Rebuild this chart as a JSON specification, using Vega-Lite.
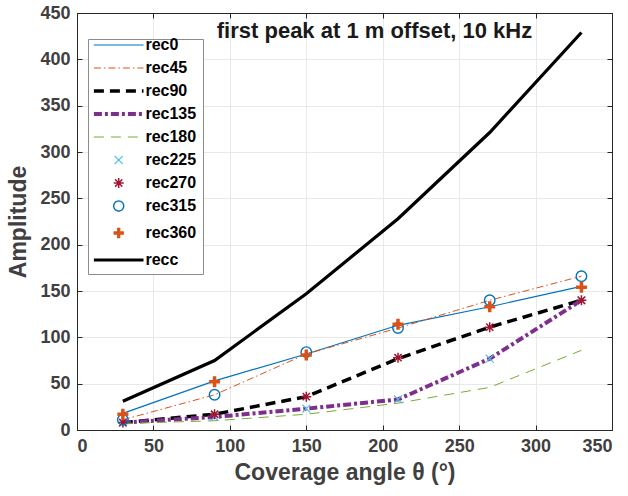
{
  "$schema": "https://vega.github.io/schema/vega-lite/v6.json",
  "autosize": {"type": "none"},
  "padding": {"left": 77, "top": 13, "right": 16, "bottom": 66},
  "width": 535,
  "height": 417,
  "background": "white",
  "title": {"text": "first peak at 1 m offset, 10 kHz", "font": "Liberation Sans", "fontSize": 22, "fontWeight": "bold", "color": "#1a1a1a", "anchor": "middle", "orient": "top", "baseline": "top", "offset": -39, "dx": 30},
  "config": {
    "view": {"stroke": "#262626", "strokeWidth": 1},
    "axis": {"labelFont": "Liberation Sans", "labelFontSize": 18, "labelFontWeight": "bold", "labelColor": "#404040", "titleFont": "Liberation Sans", "titleFontSize": 23, "titleFontWeight": "bold", "titleColor": "#404040", "domainColor": "#262626", "tickColor": "#262626", "gridColor": "#e3e3e3", "gridWidth": 0.8, "tickSize": -5, "labelPadding": 12}
  },
  "data": {"values": [
    {"series": "rec0", "angle": 30, "amp": 18}, {"series": "rec0", "angle": 90, "amp": 53}, {"series": "rec0", "angle": 150, "amp": 82}, {"series": "rec0", "angle": 210, "amp": 113}, {"series": "rec0", "angle": 270, "amp": 133}, {"series": "rec0", "angle": 330, "amp": 155},
    {"series": "rec45", "angle": 30, "amp": 11}, {"series": "rec45", "angle": 90, "amp": 38}, {"series": "rec45", "angle": 150, "amp": 82}, {"series": "rec45", "angle": 210, "amp": 110}, {"series": "rec45", "angle": 270, "amp": 140}, {"series": "rec45", "angle": 330, "amp": 166},
    {"series": "rec90", "angle": 30, "amp": 8}, {"series": "rec90", "angle": 90, "amp": 17}, {"series": "rec90", "angle": 150, "amp": 36}, {"series": "rec90", "angle": 210, "amp": 77}, {"series": "rec90", "angle": 270, "amp": 111}, {"series": "rec90", "angle": 330, "amp": 140},
    {"series": "rec135", "angle": 30, "amp": 8}, {"series": "rec135", "angle": 90, "amp": 14}, {"series": "rec135", "angle": 150, "amp": 23}, {"series": "rec135", "angle": 210, "amp": 33}, {"series": "rec135", "angle": 270, "amp": 77}, {"series": "rec135", "angle": 330, "amp": 140},
    {"series": "rec180", "angle": 30, "amp": 7}, {"series": "rec180", "angle": 90, "amp": 10}, {"series": "rec180", "angle": 150, "amp": 17}, {"series": "rec180", "angle": 210, "amp": 29}, {"series": "rec180", "angle": 270, "amp": 46}, {"series": "rec180", "angle": 330, "amp": 86},
    {"series": "rec225", "angle": 30, "amp": 8}, {"series": "rec225", "angle": 90, "amp": 14}, {"series": "rec225", "angle": 150, "amp": 23}, {"series": "rec225", "angle": 210, "amp": 33}, {"series": "rec225", "angle": 270, "amp": 77}, {"series": "rec225", "angle": 330, "amp": 140},
    {"series": "rec270", "angle": 30, "amp": 8}, {"series": "rec270", "angle": 90, "amp": 17}, {"series": "rec270", "angle": 150, "amp": 36}, {"series": "rec270", "angle": 210, "amp": 78}, {"series": "rec270", "angle": 270, "amp": 111}, {"series": "rec270", "angle": 330, "amp": 140},
    {"series": "rec315", "angle": 30, "amp": 11}, {"series": "rec315", "angle": 90, "amp": 38}, {"series": "rec315", "angle": 150, "amp": 84}, {"series": "rec315", "angle": 210, "amp": 110}, {"series": "rec315", "angle": 270, "amp": 140}, {"series": "rec315", "angle": 330, "amp": 166},
    {"series": "rec360", "angle": 30, "amp": 17}, {"series": "rec360", "angle": 90, "amp": 52}, {"series": "rec360", "angle": 150, "amp": 81}, {"series": "rec360", "angle": 210, "amp": 114}, {"series": "rec360", "angle": 270, "amp": 133}, {"series": "rec360", "angle": 330, "amp": 154},
    {"series": "recc", "angle": 30, "amp": 31}, {"series": "recc", "angle": 90, "amp": 75}, {"series": "recc", "angle": 150, "amp": 147}, {"series": "recc", "angle": 210, "amp": 228}, {"series": "recc", "angle": 270, "amp": 321}, {"series": "recc", "angle": 330, "amp": 429}
  ]},
  "encoding": {
    "x": {"field": "angle", "type": "quantitative", "scale": {"domain": [0, 350], "nice": false}, "axis": null},
    "y": {"field": "amp", "type": "quantitative", "scale": {"domain": [0, 450], "nice": false}, "axis": null},
    "color": {"field": "series", "type": "nominal", "legend": null,
      "scale": {"domain": ["rec0", "rec45", "rec90", "rec135", "rec180", "rec225", "rec270", "rec315", "rec360", "recc"], "range": ["#0072BD", "#D95319", "#000000", "#7E2F8E", "#77AC30", "#4DBEEE", "#A2142F", "#0072BD", "#D95319", "#000000"]}}
  },
  "resolve": {"axis": {"x": "independent", "y": "independent"}},
  "layer": [
    {
      "transform": [{"filter": {"field": "series", "equal": "rec0"}}],
      "mark": {"type": "line", "strokeWidth": 1.2},
      "encoding": {
        "x": {"field": "angle", "type": "quantitative", "scale": {"domain": [0, 350], "nice": false}, "axis": {"title": "Coverage angle θ (°)", "values": [0, 50, 100, 150, 200, 250, 300, 350], "titlePadding": 6, "grid": true}},
        "y": {"field": "amp", "type": "quantitative", "scale": {"domain": [0, 450], "nice": false}, "axis": {"title": "Amplitude", "values": [0, 50, 100, 150, 200, 250, 300, 350, 400, 450], "titlePadding": 9, "grid": true}},
        "color": {"field": "series", "type": "nominal",
          "scale": {"domain": ["rec0", "rec45", "rec90", "rec135", "rec180", "rec225", "rec270", "rec315", "rec360", "recc"], "range": ["#0072BD", "#D95319", "#000000", "#7E2F8E", "#77AC30", "#4DBEEE", "#A2142F", "#0072BD", "#D95319", "#000000"]},
          "legend": {
            "orient": "none", "legendX": 11, "legendY": 26, "title": null, "padding": 6,
            "strokeColor": "#8c8c8c", "fillColor": "white",
            "labelFont": "Liberation Sans", "labelFontSize": 16, "labelFontWeight": "bold", "labelColor": "#000000",
            "symbolSize": 64, "rowPadding": 7,
            "encode": {
              "symbols": {"update": {
                "x": {"value": 24.7},
                "shape": {"signal": "{rec225: 'M-1,-1L1,1M-1,1L1,-1', rec270: 'M-1.25,0H1.25M0,-1.25V1.25M-0.9,-0.9L0.9,0.9M-0.9,0.9L0.9,-0.9', rec315: 'M1.25,0A1.25,1.25,0,1,1,-1.25,0A1.25,1.25,0,1,1,1.25,0Z', rec360: 'M-1.3,0H1.3M0,-1.3V1.3'}[datum.value] || 'M-6.2,0H6.2'"},
                "strokeDash": {"signal": "{rec45: [7,3,1.5,3], rec90: [10,6], rec135: [8,3,3,3], rec180: [10,7]}[datum.value] || [1,0]"},
                "strokeWidth": {"signal": "{rec0: 1.2, rec45: 1, rec90: 3.5, rec135: 4, rec180: 1, recc: 3.2, rec225: 1.2, rec270: 1.5, rec315: 1.4, rec360: 3.3}[datum.value]"},
                "fill": {"value": "transparent"},
                "stroke": {"scale": "color", "field": "value"},
                "size": {"value": 64},
                "opacity": {"value": 1}
              }},
              "labels": {"update": {"x": {"value": 51.4}}}
            }
          }}
      }
    },
    {
      "transform": [{"filter": {"field": "series", "equal": "rec45"}}],
      "mark": {"type": "line", "strokeWidth": 1, "strokeDash": [7, 3, 1.5, 3]},
      "encoding": {
        "x": {"field": "angle", "type": "quantitative", "scale": {"domain": [0, 350], "nice": false}, "axis": {"orient": "top", "labels": false, "title": null, "grid": false, "values": [0, 50, 100, 150, 200, 250, 300, 350]}},
        "y": {"field": "amp", "type": "quantitative", "scale": {"domain": [0, 450], "nice": false}, "axis": {"orient": "right", "labels": false, "title": null, "grid": false, "values": [0, 50, 100, 150, 200, 250, 300, 350, 400, 450]}}
      }
    },
    {
      "transform": [{"filter": {"field": "series", "equal": "rec90"}}],
      "mark": {"type": "line", "strokeWidth": 3.5, "strokeDash": [10, 6]},
      "encoding": {}
    },
    {
      "transform": [{"filter": {"field": "series", "equal": "rec135"}}],
      "mark": {"type": "line", "strokeWidth": 4, "strokeDash": [8, 3, 3, 3]},
      "encoding": {}
    },
    {
      "transform": [{"filter": {"field": "series", "equal": "rec180"}}],
      "mark": {"type": "line", "strokeWidth": 1, "strokeDash": [10, 7]},
      "encoding": {}
    },
    {
      "transform": [{"filter": {"field": "series", "equal": "recc"}}],
      "mark": {"type": "line", "strokeWidth": 3.2},
      "encoding": {}
    },
    {
      "transform": [{"filter": {"field": "series", "equal": "rec225"}}],
      "mark": {"type": "point", "filled": false, "opacity": 1, "strokeWidth": 1.2, "size": 64, "shape": "M-1,-1L1,1M-1,1L1,-1"},
      "encoding": {}
    },
    {
      "transform": [{"filter": {"field": "series", "equal": "rec270"}}],
      "mark": {"type": "point", "filled": false, "opacity": 1, "strokeWidth": 1.5, "size": 100, "shape": "M-1,0H1M0,-1V1M-0.72,-0.72L0.72,0.72M-0.72,0.72L0.72,-0.72"},
      "encoding": {}
    },
    {
      "transform": [{"filter": {"field": "series", "equal": "rec315"}}],
      "mark": {"type": "point", "filled": false, "opacity": 1, "strokeWidth": 1.4, "size": 110, "shape": "circle"},
      "encoding": {}
    },
    {
      "transform": [{"filter": {"field": "series", "equal": "rec360"}}],
      "mark": {"type": "point", "filled": false, "opacity": 1, "strokeWidth": 3.5, "size": 121, "shape": "M-1,0H1M0,-1V1"},
      "encoding": {}
    }
  ]
}
